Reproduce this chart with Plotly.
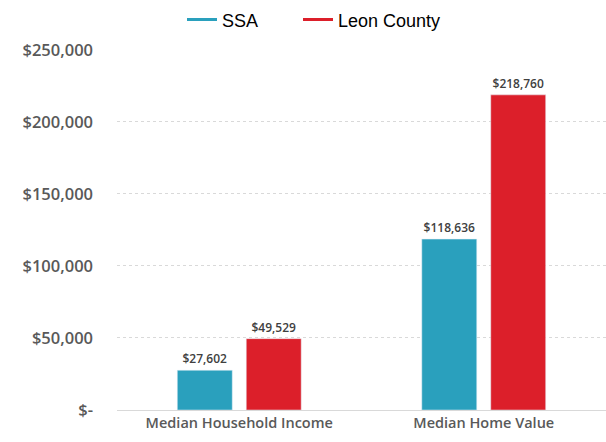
import plotly.graph_objects as go

categories = ["Median Household Income", "Median Home Value"]
ssa_values = [27602, 118636]
leon_values = [49529, 218760]
series_names = ["SSA", "Leon County"]
tick_vals = [0, 50000, 100000, 150000, 200000, 250000]
tick_text = ["$-", "$50,000", "$100,000", "$150,000", "$200,000", "$250,000"]

colors = ["#2AA0BD", "#DC1F2A"]
legend_ids = ["legend", "legend2"]
legend_x = [182 / 606, 298 / 606]

fig = go.Figure()
for name, vals, col in zip(series_names, [ssa_values, leon_values], colors):
    fig.add_trace(go.Bar(
        x=categories, y=vals, name=name, marker_color=col,
        text=["${:,.0f}".format(v) for v in vals], textposition="outside",
        textfont=dict(family="Open Sans", size=12, color="#404040", weight=600),
        cliponaxis=False, showlegend=False))
for name, col, lid in zip(series_names, colors, legend_ids):
    fig.add_trace(go.Scatter(x=[None], y=[None], mode="lines", name=name,
                             line=dict(color=col, width=3), legend=lid))

legend_common = dict(orientation="h", xanchor="left", xref="container",
                     y=0.997, yanchor="top", yref="container",
                     font=dict(family="Liberation Sans", size=18, color="#000000"),
                     itemwidth=30)
fig.update_layout(
    width=606, height=442,
    margin=dict(l=117, r=0, t=49, b=32, autoexpand=False),
    plot_bgcolor="white", paper_bgcolor="white",
    barmode="group", bargap=0.436, bargroupgap=0.203,
    legend=dict(x=legend_x[0], **legend_common),
    legend2=dict(x=legend_x[1], **legend_common),
    showlegend=True,
)
fig.update_xaxes(showline=True, linecolor="#D9D9D9", linewidth=1, ticks="",
                 automargin=False,
                 tickfont=dict(family="Open Sans", size=14.5, color="#595959", weight=600))
fig.update_yaxes(range=[0, 250600], tickvals=tick_vals, ticktext=tick_text,
                 showgrid=True, gridcolor="#D9D9D9", griddash="dot", gridwidth=1,
                 zeroline=False, ticks="", ticklabelstandoff=23, automargin=False,
                 tickfont=dict(family="Open Sans", size=16.5, color="#595959", weight=600))
fig.write_html("out.html", config={"displayModeBar": False},
               post_script="document.body.style.margin='0';")
